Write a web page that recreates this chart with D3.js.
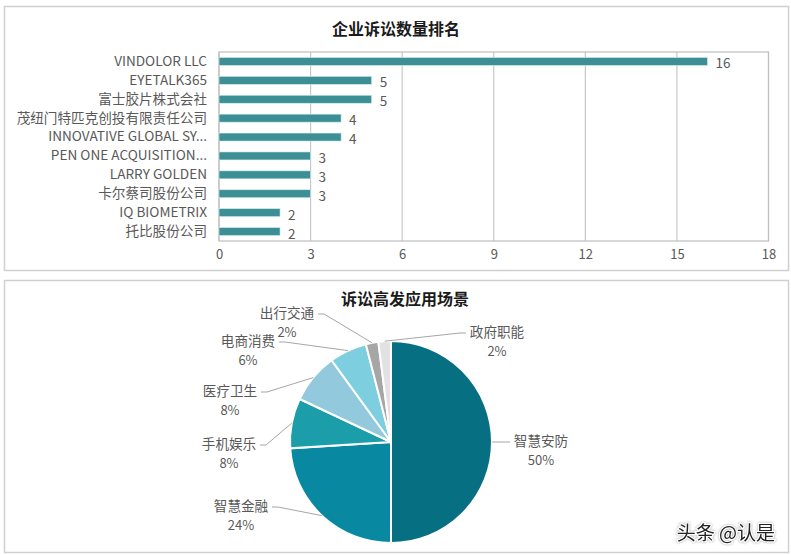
<!DOCTYPE html>
<html>
<head>
<meta charset="utf-8">
<script src="https://cdn.jsdelivr.net/npm/d3@7"></script>
<style>
  html, body { margin: 0; padding: 0; background: #fff; }
  svg { display: block; font-family: "Noto Sans CJK SC", "Noto Sans", sans-serif; }
</style>
</head>
<body>
<svg id="chart" width="791" height="555"></svg>
<script>
// ---- Data: bar chart ----
const companies = ["VINDOLOR LLC", "EYETALK365", "富士胶片株式会社", "茂纽门特匹克创投有限责任公司",
  "INNOVATIVE GLOBAL SY...", "PEN ONE ACQUISITION...", "LARRY GOLDEN", "卡尔蔡司股份公司",
  "IQ BIOMETRIX", "托比股份公司"];
const caseCounts = [16, 5, 5, 4, 4, 3, 3, 3, 2, 2];
const xTicks = [0, 3, 6, 9, 12, 15, 18];
const barTitle = "企业诉讼数量排名";

// ---- Data: pie chart ----
const scenes = ["智慧安防", "智慧金融", "手机娱乐", "医疗卫生", "电商消费", "出行交通", "政府职能"];
const sceneShares = [50, 24, 8, 8, 6, 2, 2];
const sceneColors = ["#076f82", "#0888a1", "#1b9ea9", "#93c9dc", "#7dcfe0", "#a6a6a6", "#e2e2e2"];
const pieTitle = "诉讼高发应用场景";

// label placement (layout only): offsets of label centres from pie centre, side of text
const labelLayout = [
  { dx: 150, dy: -2, side: "right" },
  { dx: -150, dy: 63, side: "left" },
  { dx: -162, dy: 1, side: "left" },
  { dx: -161, dy: -52, side: "left" },
  { dx: -143, dy: -102, side: "left" },
  { dx: -104, dy: -130, side: "left" },
  { dx: 106, dy: -111, side: "right" }
];

const svg = d3.select("#chart");
const textColor = "#595959";

// ---- Panels ----
svg.append("rect").attr("x", 4.5).attr("y", 6.5).attr("width", 784).attr("height", 264)
  .attr("fill", "#fff").attr("stroke", "#d0d0d0").attr("stroke-width", 1.5);
svg.append("rect").attr("x", 4.5).attr("y", 280.5).attr("width", 784).attr("height", 272)
  .attr("fill", "#fff").attr("stroke", "#d0d0d0").attr("stroke-width", 1.5);

// ---- Bar chart ----
const bm = { left: 219, right: 768.5, top: 52, bottom: 241 };
const x = d3.scaleLinear().domain([0, 18]).range([bm.left, bm.right]);
const y = d3.scaleBand().domain(companies).range([bm.top, bm.bottom]).paddingInner(0.6).paddingOuter(0.3);

svg.append("text").attr("x", 396).attr("y", 28).attr("text-anchor", "middle")
  .attr("dominant-baseline", "central").attr("font-size", 16).attr("font-weight", "bold")
  .attr("fill", "#1a1a1a").text(barTitle);

// gridlines
svg.append("g").selectAll("line").data(xTicks).join("line")
  .attr("x1", d => x(d)).attr("x2", d => x(d)).attr("y1", bm.top).attr("y2", bm.bottom)
  .attr("stroke", "#c8c8c8").attr("stroke-width", 1.2);
// plot frame
svg.append("rect").attr("x", bm.left).attr("y", bm.top).attr("width", bm.right - bm.left)
  .attr("height", bm.bottom - bm.top).attr("fill", "none").attr("stroke", "#bfbfbf").attr("stroke-width", 1.2);

// x axis
const xAxis = svg.append("g").attr("transform", `translate(0,${bm.bottom})`)
  .call(d3.axisBottom(x).tickValues(xTicks).tickSize(0).tickPadding(9));
xAxis.select(".domain").remove();
xAxis.selectAll("text").attr("font-size", 13).attr("fill", textColor)
  .attr("font-family", "'Noto Sans CJK SC', sans-serif");

// y axis
const yAxis = svg.append("g").attr("transform", `translate(${bm.left},0)`)
  .call(d3.axisLeft(y).tickSize(0).tickPadding(12));
yAxis.select(".domain").remove();
yAxis.selectAll("text").attr("font-size", 13.6).attr("fill", textColor)
  .attr("font-family", "'Noto Sans CJK SC', sans-serif");

// bars
svg.append("g").selectAll("rect").data(companies).join("rect")
  .attr("x", x(0)).attr("y", d => y(d) + y.bandwidth() / 2 - 4)
  .attr("width", (d, i) => x(caseCounts[i]) - x(0)).attr("height", 8)
  .attr("fill", "#3c8f94").attr("stroke", "#d6eeee").attr("stroke-width", 0.6);

// value labels
svg.append("g").selectAll("text").data(companies).join("text")
  .attr("x", (d, i) => x(caseCounts[i]) + 8).attr("y", d => y(d) + y.bandwidth() / 2 + 1)
  .attr("dominant-baseline", "central").attr("font-size", 13.5).attr("fill", textColor)
  .text((d, i) => caseCounts[i]);

// ---- Pie chart ----
const cx = 391, cy = 442, R = 101;
svg.append("text").attr("x", 405).attr("y", 298).attr("text-anchor", "middle")
  .attr("dominant-baseline", "central").attr("font-size", 16).attr("font-weight", "bold")
  .attr("fill", "#1a1a1a").text(pieTitle);

const pieData = d3.pie().sort(null).value(d => d)(sceneShares);
const arc = d3.arc().innerRadius(0).outerRadius(R);
const g = svg.append("g").attr("transform", `translate(${cx},${cy})`);
g.selectAll("path").data(pieData).join("path")
  .attr("d", arc).attr("fill", (d, i) => sceneColors[i])
  .attr("stroke", "#fff").attr("stroke-width", 2);

// leader lines + labels
const total = d3.sum(sceneShares);
pieData.forEach((d, i) => {
  const mid = (d.startAngle + d.endAngle) / 2;
  const px = Math.sin(mid) * R, py = -Math.cos(mid) * R;
  const L = labelLayout[i];
  const halfW = 28;
  const ex = L.side === "left" ? L.dx + halfW + 3 : L.dx - halfW - 3;
  const ey = L.dy + 2;
  const sx = L.side === "left" ? ex + 6 : ex - 6;
  g.append("polyline")
    .attr("points", [[ex, ey], [sx, ey], [px, py]].map(p => p.join(",")).join(" "))
    .attr("fill", "none").attr("stroke", "#a6a6a6").attr("stroke-width", 1);
  g.append("text").attr("x", L.dx).attr("y", L.dy).attr("text-anchor", "middle")
    .attr("dominant-baseline", "central").attr("font-size", 13.6).attr("fill", textColor)
    .text(scenes[i]);
  g.append("text").attr("x", L.dx).attr("y", L.dy + 19).attr("text-anchor", "middle")
    .attr("dominant-baseline", "central").attr("font-size", 13).attr("fill", textColor)
    .text(Math.round(d.data / total * 100) + "%");
});

// watermark
svg.append("text").attr("x", 775).attr("y", 531).attr("text-anchor", "end")
  .attr("dominant-baseline", "central").attr("font-size", 19).attr("fill", "#222")
  .attr("stroke", "#fff").attr("stroke-width", 2.5).attr("paint-order", "stroke")
  .style("filter", "drop-shadow(0 0 1px rgba(0,0,0,0.35))")
  .text("头条 @认是");
</script>
</body>
</html>
